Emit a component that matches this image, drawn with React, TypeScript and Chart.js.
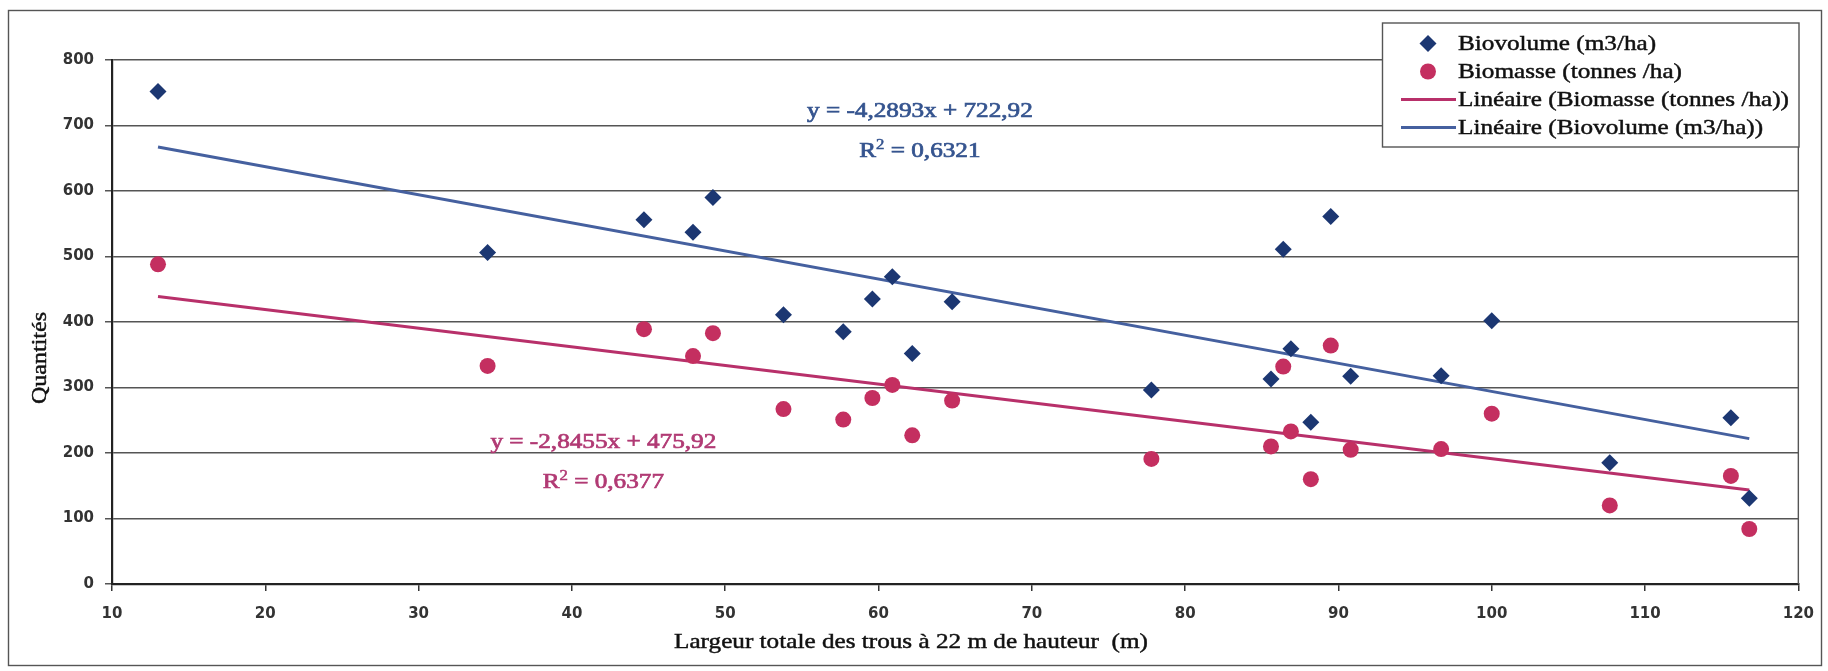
import React, { useEffect, useRef } from 'react';
import { Chart, registerables } from 'chart.js';

Chart.register(...registerables);

// ---- Data ----
const X_VALUES = [13, 34.5, 44.7, 47.9, 49.2, 53.8, 57.7, 59.6, 60.9, 62.2, 64.8, 77.8, 85.6, 86.4, 86.9, 88.2, 89.5, 90.8, 96.7, 100, 107.7, 115.6, 116.8];
const BIOVOLUME = [752, 506, 556, 537, 590, 411, 385, 435, 469, 352, 431, 296, 313, 511, 359, 247, 561, 317, 318, 402, 185, 254, 131];
const BIOMASSE = [488, 333, 389, 348, 383, 267, 251, 284, 304, 227, 280, 191, 210, 332, 233, 160, 364, 205, 206, 260, 120, 165, 84];

// Trend line coefficients as printed on the chart
const TREND_BIOVOLUME = [-4.2893, 722.92];
const TREND_BIOMASSE = [-2.8455, 475.92];
const EQ_BIOVOLUME = ['y = -4,2893x + 722,92', '0,6321'];
const EQ_BIOMASSE = ['y = -2,8455x + 475,92', '0,6377'];

const LEGEND_LABELS = [
  'Biovolume (m3/ha)',
  'Biomasse (tonnes /ha)',
  'Linéaire (Biomasse (tonnes /ha))',
  'Linéaire (Biovolume (m3/ha))',
];
const X_TITLE = 'Largeur totale des trous à 22 m de hauteur  (m)';
const Y_TITLE = 'Quantités';
const X_RANGE = [10, 120];
const Y_RANGE = [0, 800];

// ---- Styles ----
const W = 1828;
const H = 671;
const SERIF = '"Liberation Serif", "Times New Roman", serif';
const SANS = '"DejaVu Sans", Verdana, sans-serif';
const STRETCH = 1.2;
const BLUE_PT = '#1c3772';
const RED_PT = '#c42f60';
const BLUE_LINE = '#45609f';
const RED_LINE = '#b8306a';
const BLUE_TXT = '#35548f';
const RED_TXT = '#b13a74';

function stretchedText(ctx: CanvasRenderingContext2D, text: string, x: number, y: number, align: 'left' | 'center', stretch = STRETCH, heavy = 0.45) {
  ctx.save();
  ctx.translate(x, y);
  ctx.scale(stretch, 1);
  ctx.textAlign = align;
  ctx.fillText(text, 0, 0);
  if (heavy > 0) {
    ctx.strokeStyle = ctx.fillStyle as string;
    ctx.lineWidth = heavy;
    ctx.strokeText(text, 0, 0);
  }
  ctx.restore();
}

function drawEquation(ctx: CanvasRenderingContext2D, lines: string[], cx: number, y: number, color: string) {
  ctx.save();
  ctx.fillStyle = color;
  ctx.textBaseline = 'alphabetic';
  ctx.font = `21px ${SERIF}`;
  stretchedText(ctx, lines[0], cx, y, 'center', STRETCH, 0.7);
  // R² line
  const y2 = y + 40;
  const rW = ctx.measureText('R').width * STRETCH;
  const rest = ' = ' + lines[1];
  const restW = ctx.measureText(rest).width * STRETCH;
  ctx.font = `14px ${SERIF}`;
  const supW = ctx.measureText('2').width * STRETCH;
  const total = rW + supW + restW;
  let x = cx - total / 2;
  ctx.font = `21px ${SERIF}`;
  stretchedText(ctx, 'R', x, y2, 'left', STRETCH, 0.7);
  x += rW;
  ctx.font = `14px ${SERIF}`;
  stretchedText(ctx, '2', x, y2 - 8, 'left', STRETCH, 0.5);
  x += supW;
  ctx.font = `21px ${SERIF}`;
  stretchedText(ctx, rest, x, y2, 'left', STRETCH, 0.7);
  ctx.restore();
}

function diamond(ctx: CanvasRenderingContext2D, x: number, y: number, r: number, color: string) {
  ctx.beginPath();
  ctx.moveTo(x, y - r);
  ctx.lineTo(x + r, y);
  ctx.lineTo(x, y + r);
  ctx.lineTo(x - r, y);
  ctx.closePath();
  ctx.fillStyle = color;
  ctx.fill();
}

const decorPlugin = {
  id: 'decor',
  beforeDraw(chart: any) {
    const ctx: CanvasRenderingContext2D = chart.ctx;
    ctx.save();
    ctx.fillStyle = '#ffffff';
    ctx.fillRect(0, 0, chart.width, chart.height);
    ctx.strokeStyle = '#555';
    ctx.lineWidth = 1.4;
    ctx.strokeRect(8.5, 10.5, 1813, 655);
    ctx.restore();
  },
  afterDatasetsDraw(chart: any) {
    const ctx: CanvasRenderingContext2D = chart.ctx;
    const a = chart.chartArea;
    const xs = chart.scales.x;
    const ys = chart.scales.y;
    ctx.save();
    ctx.strokeStyle = '#555';
    ctx.lineWidth = 1.4;
    ctx.beginPath();
    ctx.moveTo(a.right, a.top);
    ctx.lineTo(a.right, a.bottom);
    ctx.stroke();
    ctx.restore();
    drawEquation(ctx, EQ_BIOVOLUME, xs.getPixelForValue(62.7), ys.getPixelForValue(713), BLUE_TXT);
    drawEquation(ctx, EQ_BIOMASSE, xs.getPixelForValue(42.05), ys.getPixelForValue(208), RED_TXT);
  },
  afterDraw(chart: any) {
    const ctx: CanvasRenderingContext2D = chart.ctx;
    ctx.save();
    // Legend box
    const lx = 1382.5, ly = 23, lw = 416.5, lh = 124;
    ctx.fillStyle = '#ffffff';
    ctx.fillRect(lx, ly, lw, lh);
    ctx.strokeStyle = '#555';
    ctx.lineWidth = 1.4;
    ctx.strokeRect(lx, ly, lw, lh);
    ctx.font = `21px ${SERIF}`;
    ctx.textBaseline = 'middle';
    LEGEND_LABELS.forEach((label, i) => {
      const cy = ly + 20.5 + i * 28;
      if (i === 0) diamond(ctx, 1428, cy, 8.5, BLUE_PT);
      else if (i === 1) {
        ctx.beginPath();
        ctx.arc(1428, cy, 8, 0, Math.PI * 2);
        ctx.fillStyle = RED_PT;
        ctx.fill();
      } else {
        ctx.beginPath();
        ctx.moveTo(1401, cy);
        ctx.lineTo(1456, cy);
        ctx.strokeStyle = i === 2 ? RED_LINE : BLUE_LINE;
        ctx.lineWidth = 3;
        ctx.stroke();
      }
      ctx.fillStyle = '#111';
      stretchedText(ctx, label, 1458, cy + 1, 'left');
    });
    // Axis titles
    ctx.fillStyle = '#111';
    ctx.font = `21px ${SERIF}`;
    ctx.textBaseline = 'middle';
    stretchedText(ctx, X_TITLE, 911, 642, 'center');
    ctx.save();
    ctx.translate(41, 358);
    ctx.rotate(-Math.PI / 2);
    ctx.font = `20px ${SERIF}`;
    stretchedText(ctx, Y_TITLE, 0, 0, 'center', 1.2);
    ctx.restore();
    ctx.restore();
  },
};

function trendPoints(coef: number[]) {
  const minX = Math.min(...X_VALUES);
  const maxX = Math.max(...X_VALUES);
  return [minX, maxX].map((x) => ({ x, y: coef[0] * x + coef[1] }));
}

export default function App() {
  const ref = useRef<HTMLCanvasElement | null>(null);
  useEffect(() => {
    if (!ref.current) return;
    const chart = new Chart(ref.current, {
      type: 'scatter',
      data: {
        datasets: [
          {
            label: LEGEND_LABELS[0],
            data: X_VALUES.map((x, i) => ({ x, y: BIOVOLUME[i] })),
            pointStyle: 'rectRot',
            pointRadius: 8.5,
            backgroundColor: BLUE_PT,
            borderColor: BLUE_PT,
            borderWidth: 0,
          },
          {
            label: LEGEND_LABELS[1],
            data: X_VALUES.map((x, i) => ({ x, y: BIOMASSE[i] })),
            pointStyle: 'circle',
            pointRadius: 8,
            backgroundColor: RED_PT,
            borderColor: RED_PT,
            borderWidth: 0,
          },
          {
            label: LEGEND_LABELS[2],
            data: trendPoints(TREND_BIOMASSE),
            showLine: true,
            pointRadius: 0,
            borderColor: RED_LINE,
            borderWidth: 3,
            backgroundColor: RED_LINE,
          },
          {
            label: LEGEND_LABELS[3],
            data: trendPoints(TREND_BIOVOLUME),
            showLine: true,
            pointRadius: 0,
            borderColor: BLUE_LINE,
            borderWidth: 3,
            backgroundColor: BLUE_LINE,
          },
        ],
      } as any,
      options: {
        animation: false,
        responsive: false,
        devicePixelRatio: 1,
        layout: { padding: { left: 0, right: 28, top: 60, bottom: 0 } },
        plugins: {
          legend: { display: false },
          tooltip: { enabled: false },
          title: { display: false },
        },
        scales: {
          x: {
            type: 'linear',
            min: X_RANGE[0],
            max: X_RANGE[1],
            ticks: { stepSize: 10, font: { family: SANS, size: 15, weight: 'bold' }, color: '#333', padding: 14, maxRotation: 0 },
            grid: { drawOnChartArea: false, drawTicks: true, tickLength: 7, color: '#333', lineWidth: 1.5 },
            border: { display: true, color: '#222', width: 2.2 },
            afterFit: (s: any) => { s.height = 87; },
          },
          y: {
            type: 'linear',
            min: Y_RANGE[0],
            max: Y_RANGE[1],
            ticks: { stepSize: 100, font: { family: SANS, size: 15, weight: 'bold' }, color: '#333', padding: 11 },
            grid: { color: '#555', lineWidth: 1.5, drawTicks: true, tickLength: 7 },
            border: { display: true, color: '#222', width: 2.2 },
            afterFit: (s: any) => { s.width = 112; },
          },
        },
      } as any,
      plugins: [decorPlugin],
    });
    return () => chart.destroy();
  }, []);
  return (
    <div style={{ position: 'fixed', left: 0, top: 0, width: W, height: H, background: '#fff' }}>
      <canvas ref={ref} width={W} height={H} style={{ display: 'block', width: W, height: H }} />
    </div>
  );
}
